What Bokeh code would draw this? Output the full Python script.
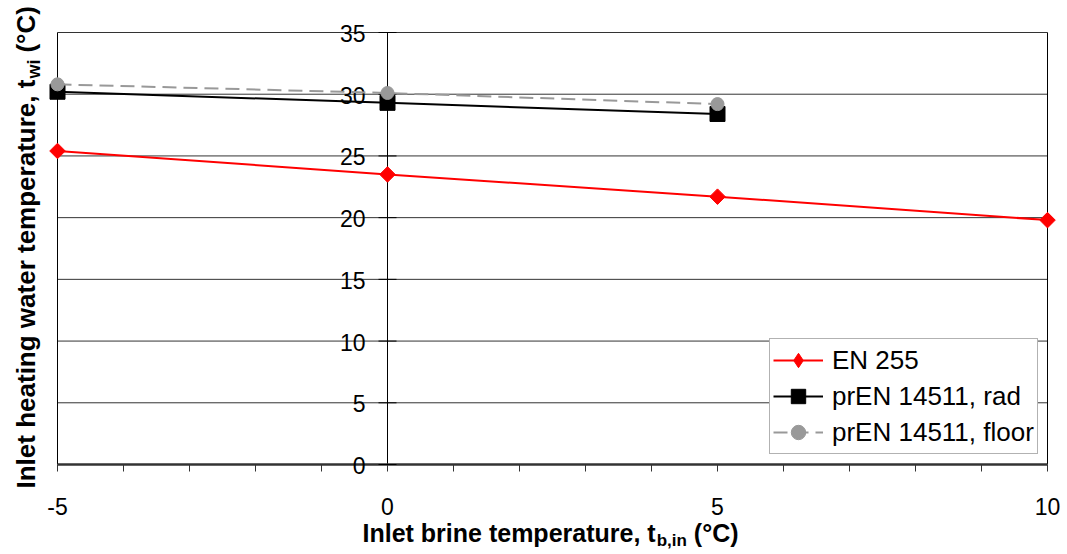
import numpy as np
from bokeh.plotting import figure
from bokeh.models import Range1d, Legend, LegendItem, ColumnDataSource
from bokeh.core.properties import value
from bokeh.embed import file_html
from bokeh.resources import INLINE

# ---------------- data ----------------
x_en255 = [-5, 0, 5, 10]
y_en255 = [25.4, 23.5, 21.7, 19.8]
x_rad = [-5, 0, 5]
y_rad = [30.2, 29.3, 28.4]
x_floor = [-5, 0, 5]
y_floor = [30.8, 30.1, 29.2]
series_names = ["EN 255", "prEN 14511, rad", "prEN 14511, floor"]
x_tick_labels = [-5, 0, 5, 10]
x_minor_ticks = list(range(-5, 11))
y_ticks = [0, 5, 10, 15, 20, 25, 30, 35]
y_title = ["Inlet heating water temperature, t", "wi", "(°C)"]
x_title = ["Inlet brine temperature, t", "b,in", "(°C)"]

FONT = "Liberation Sans"
W, H = 1067, 554
# pixel box of the plotting area (x=-5..10, y=0..35)
PX_L, PX_R, PX_T, PX_B = 57, 1047, 32, 464

xmin, xmax = min(x_tick_labels), max(x_tick_labels)
ymin, ymax = min(y_ticks), max(y_ticks)
ppx = (PX_R - PX_L) / (xmax - xmin)
ppy = (PX_B - PX_T) / (ymax - ymin)

# Arial-bold-like advance widths (per 1000 em) to chain title pieces
_BW = {" ": 278, "(": 333, ")": 333, ",": 278, "C": 722, "I": 278, "°": 400,
       "a": 556, "b": 611, "e": 556, "g": 611, "h": 611, "i": 278, "l": 278,
       "m": 889, "n": 611, "p": 611, "r": 389, "t": 333, "u": 611, "w": 778}


def tw(s, fs):
    return sum(_BW.get(c, 556) for c in s) * fs / 1000.0


p = figure(width=W, height=H, output_backend="svg", toolbar_location=None,
           x_range=Range1d(xmin - PX_L / ppx, xmax + (W - PX_R) / ppx),
           y_range=Range1d(ymin - (H - PX_B) / ppy, ymax + PX_T / ppy),
           min_border_left=0, min_border_right=0, min_border_top=0,
           min_border_bottom=0)
p.xgrid.visible = False
p.ygrid.visible = False
p.axis.visible = False
p.outline_line_color = None
p.background_fill_color = "white"
p.border_fill_color = "white"

# horizontal grid lines
p.segment(x0=xmin, x1=xmax, y0=y_ticks[1:], y1=y_ticks[1:],
          line_color="#333333", line_width=1)
# frame sides and the y axis at x = 0
p.segment(x0=[xmin, 0, xmax], x1=[xmin, 0, xmax], y0=ymin, y1=ymax,
          line_color="black", line_width=1)
# x tick marks (below the axis line)
p.segment(x0=x_minor_ticks, x1=x_minor_ticks, y0=ymin, y1=ymin - 7 / ppy,
          line_color="#333333", line_width=1)
# bottom axis line
p.segment(x0=xmin, x1=xmax, y0=ymin, y1=ymin, line_color="#333333",
          line_width=2.5)
# y tick marks on the x = 0 axis
p.scatter(x=0, y=y_ticks, marker="dash", size=18, line_color="black",
          line_width=1)
# y tick labels
p.text(x=0, y=y_ticks, text=[str(v) for v in y_ticks], x_offset=-22,
       y_offset=1, text_align="right", text_baseline="middle",
       text_font=value(FONT), text_font_size="23px", text_color="black")
# x tick labels
p.text(x=x_tick_labels, y=ymin, text=[str(v) for v in x_tick_labels],
       y_offset=42, text_align="center", text_baseline="middle",
       text_font=value(FONT), text_font_size="23px", text_color="black")

# series
r1l = p.line(x_en255, y_en255, line_color="#ff0000", line_width=2)
r1m = p.scatter(x_en255, y_en255, marker="square", angle=np.pi / 4,
                size=11, fill_color="#ff0000", line_color="#ff0000")
# legend-only proxy (NaN point: nothing drawn on the plot)
r1k = p.scatter(x=[float("nan")], y=[float("nan")], marker="diamond",
                size=17, fill_color="#ff0000", line_color="#ff0000")
r2l = p.line(x_rad, y_rad, line_color="black", line_width=2)
r2m = p.scatter(x_rad, y_rad, marker="square", size=15, fill_color="black",
                line_color="black")
r3l = p.line(x_floor, y_floor, line_color="#999999", line_width=2,
             line_dash="14 7")
r3m = p.scatter(x_floor, y_floor, marker="circle", size=13,
                fill_color="#999999", line_color="#999999")

legend = Legend(items=[LegendItem(label=series_names[0], renderers=[r1l, r1k]),
                       LegendItem(label=series_names[1], renderers=[r2l, r2m]),
                       LegendItem(label=series_names[2], renderers=[r3l, r3m])],
                location=(769, H - 454), padding=3, spacing=0,
                glyph_width=50, glyph_height=36, label_height=36,
                label_standoff=9, label_text_font=FONT,
                label_text_font_size="26px", label_text_color="black",
                border_line_color="#666666", border_line_width=1,
                background_fill_color="white", background_fill_alpha=1)
p.add_layout(legend)


def piece(text, fs, dx, dy, angle=0.0):
    # anchored at the bottom-left corner of the plotting area, offset in px
    p.text(x=[xmin], y=[ymin], text=[text], x_offset=dx, y_offset=dy,
           angle=angle, text_font=value(FONT), text_font_style="bold",
           text_font_size=f"{fs}px", text_color="black", text_align="left",
           text_baseline="middle")


# y title (rotated, reads bottom to top); offsets give the text mid-line
FSY, FSYS = 26, 18
ydx, ydy = 25 - PX_L, 488 - PX_B
w1 = tw(y_title[0], FSY)
w2 = tw(y_title[1], FSYS)
piece(y_title[0], FSY, ydx, ydy, np.pi / 2)
piece(y_title[1], FSYS, ydx + 8, ydy - w1 - 1, np.pi / 2)
piece(y_title[2], FSY, ydx, ydy - w1 - 1 - w2 - 7, np.pi / 2)

# x title
FSX, FSXS = 25, 17
xdx, xdy = 362 - PX_L, 532 - PX_B
w1 = tw(x_title[0], FSX)
w2 = tw(x_title[1], FSXS)
piece(x_title[0], FSX, xdx, xdy)
piece(x_title[1], FSXS, xdx + w1 + 1, xdy + 8)
piece(x_title[2], FSX, xdx + w1 + 1 + w2 + 7, xdy)

open("out.html", "w").write(file_html(p, INLINE))
